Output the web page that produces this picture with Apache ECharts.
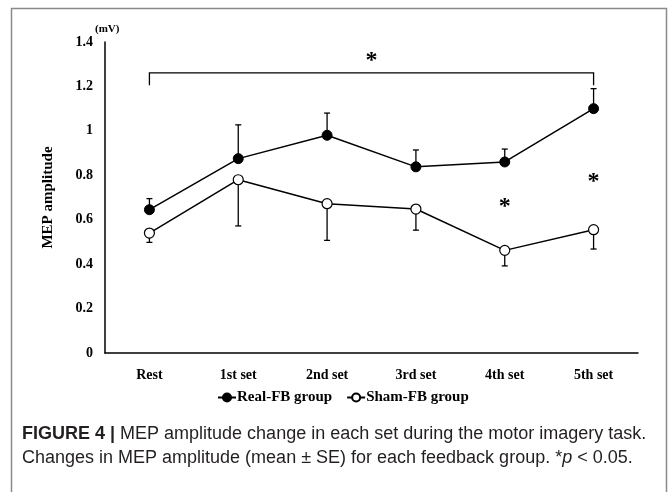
<!DOCTYPE html>
<html>
<head>
<meta charset="utf-8">
<script src="https://cdn.jsdelivr.net/npm/echarts@6/dist/echarts.min.js"></script>
<style>
  html, body { margin: 0; padding: 0; background: #fff; }
  #chart { width: 669px; height: 492px; }
</style>
</head>
<body>
<div id="chart"></div>
<script>
// data
const categories = ['Rest', '1st set', '2nd set', '3rd set', '4th set', '5th set'];
const realMean = [0.645, 0.875, 0.98, 0.838, 0.86, 1.10];
const realSE = [0.05, 0.152, 0.10, 0.076, 0.058, 0.09];
const shamMean = [0.54, 0.78, 0.672, 0.648, 0.462, 0.555];
const shamSE = [0.042, 0.208, 0.165, 0.095, 0.07, 0.087];
const yTicks = [0, 0.2, 0.4, 0.6, 0.8, 1, 1.2, 1.4];
// bracket: [from, to, bar y, tick end y, star y]
const bracket = [[0, 5, 1.261, 1.205, 1.335]];
// single stars: [category index, y]
const stars = [[4, 0.675], [5, 0.79]];

const serif = '"Liberation Serif", "Times New Roman", serif';
const sans = '"Liberation Sans", Arial, sans-serif';
const chart = echarts.init(document.getElementById('chart'));

// error bar, up for the real group and down for sham
const errorBar = (dir) => (params, api) => {
  const p0 = api.coord([api.value(0), api.value(1)]);
  const p1 = api.coord([api.value(0), api.value(1) + dir * api.value(2)]);
  const st = { stroke: '#000', lineWidth: 1.3 };
  return {
    type: 'group',
    children: [
      { type: 'line', shape: { x1: p0[0], y1: p0[1], x2: p1[0], y2: p1[1] }, style: st },
      { type: 'line', shape: { x1: p1[0] - 3, y1: p1[1], x2: p1[0] + 3, y2: p1[1] }, style: st },
    ],
  };
};

const starText = (x, y) => ({
  type: 'text',
  x: x,
  y: y + 4,
  style: {
    text: '*', font: 'bold 24px ' + serif, fill: '#000',
    align: 'center', verticalAlign: 'middle',
  },
});

chart.setOption({
  animation: false,
  grid: { left: 105, right: 31, top: 42, bottom: 139 },
  legend: {
    left: 212, top: 385,
    itemWidth: 18, itemHeight: 10, itemGap: 14,
    textStyle: { fontFamily: serif, fontWeight: 'bold', fontSize: 15, color: '#000', padding: [0, 0, 0, -4] },
    data: ['Real-FB group', 'Sham-FB group'],
  },
  xAxis: {
    type: 'category',
    data: categories,
    axisLine: { lineStyle: { color: '#000', width: 1.5 } },
    axisTick: { show: false },
    axisLabel: { fontFamily: serif, fontWeight: 'bold', fontSize: 14, color: '#000', margin: 15 },
  },
  yAxis: {
    type: 'value',
    min: 0, max: 1.4, interval: 0.2,
    name: 'MEP amplitude',
    nameLocation: 'middle',
    nameGap: 49,
    nameTextStyle: { fontFamily: serif, fontWeight: 'bold', fontSize: 15, color: '#000' },
    axisLine: { show: true, lineStyle: { color: '#000', width: 1.5 } },
    axisTick: { show: false },
    splitLine: { show: false },
    axisLabel: {
      fontFamily: serif, fontWeight: 'bold', fontSize: 14, color: '#000', margin: 12,
      formatter: (v) => String(yTicks.find(t => Math.abs(t - v) < 1e-6)),
    },
  },
  graphic: [
    {
      type: 'rect', silent: true,
      shape: { x: 11.5, y: 8.5, width: 655, height: 520 },
      style: { fill: 'none', stroke: '#8a8a8a', lineWidth: 1.5 },
    },
    {
      type: 'text', left: 95, top: 24,
      style: { text: '(mV)', font: 'bold 11px ' + serif, fill: '#000' },
    },
    {
      type: 'text', left: 22, top: 422,
      style: {
        text: '{b|FIGURE 4 |} MEP amplitude change in each set during the motor imagery task.\nChanges in MEP amplitude (mean \u00b1 SE) for each feedback group. *{i|p} < 0.05.',
        font: '18px ' + sans,
        fill: '#231f20',
        lineHeight: 24,
        rich: {
          b: { fontWeight: 'bold', fontSize: 18, fontFamily: sans, fill: '#231f20' },
          i: { fontStyle: 'italic', fontSize: 18, fontFamily: sans, fill: '#231f20' },
        },
      },
    },
  ],
  series: [
    {
      name: 'Real-FB group',
      type: 'line',
      data: realMean,
      symbol: 'circle', symbolSize: 10,
      lineStyle: { color: '#000', width: 1.5 },
      itemStyle: { color: '#000', borderColor: '#000', borderWidth: 1 },
      z: 3,
    },
    {
      name: 'Sham-FB group',
      type: 'line',
      data: shamMean,
      symbol: 'circle', symbolSize: 10,
      lineStyle: { color: '#000', width: 1.5 },
      itemStyle: { color: '#fff', borderColor: '#000', borderWidth: 1.2 },
      z: 3,
    },
    {
      type: 'custom', silent: true, z: 2,
      renderItem: errorBar(1),
      data: realMean.map((m, i) => [i, m, realSE[i]]),
    },
    {
      type: 'custom', silent: true, z: 2,
      renderItem: errorBar(-1),
      data: shamMean.map((m, i) => [i, m, shamSE[i]]),
    },
    {
      type: 'custom', silent: true, z: 2,
      renderItem: (params, api) => {
        const a = api.coord([api.value(0), api.value(2)]);
        const b = api.coord([api.value(1), api.value(2)]);
        const ea = api.coord([api.value(0), api.value(3)]);
        const s = api.coord([api.value(0), api.value(4)]);
        return {
          type: 'group',
          children: [
            {
              type: 'polyline',
              shape: { points: [[a[0], ea[1]], a, b, [b[0], ea[1]]] },
              style: { stroke: '#000', lineWidth: 1.3, fill: 'none' },
            },
            starText((a[0] + b[0]) / 2, s[1]),
          ],
        };
      },
      data: bracket,
    },
    {
      type: 'custom', silent: true, z: 2,
      renderItem: (params, api) => {
        const p = api.coord([api.value(0), api.value(1)]);
        return starText(p[0], p[1]);
      },
      data: stars,
    },
  ],
});
</script>
</body>
</html>
